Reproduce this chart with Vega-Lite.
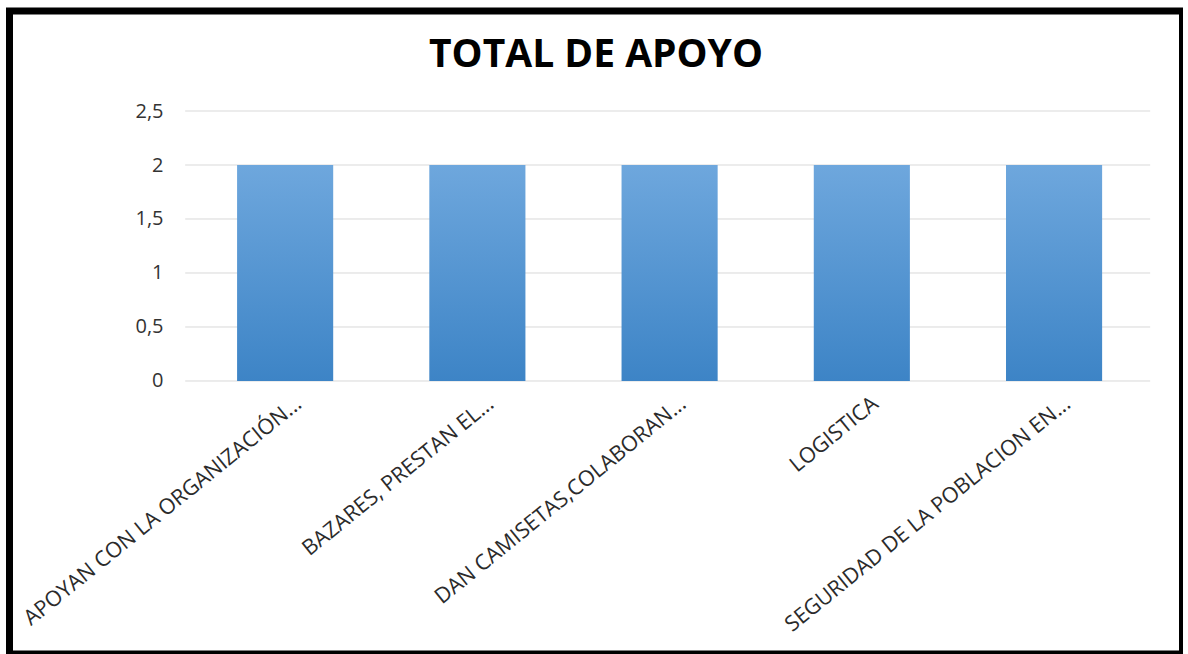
{
  "$schema": "https://vega.github.io/schema/vega-lite/v6.json",
  "autosize": {"type": "none"},
  "padding": {"left": 9.5, "top": 11, "right": 0, "bottom": 0},
  "width": 1173,
  "height": 643,
  "background": "white",
  "config": {
    "view": {"stroke": "black", "strokeWidth": 7, "fill": "white"},
    "font": "Open Sans"
  },
  "title": {
    "text": "TOTAL DE APOYO",
    "font": "Open Sans",
    "fontSize": 39,
    "fontWeight": "bold",
    "color": "#000000",
    "anchor": "middle",
    "offset": -64
  },
  "datasets": {
    "apoyo": [
      {"categoria": "APOYAN CON LA ORGANIZACIÓN...", "total": 2},
      {"categoria": "BAZARES, PRESTAN EL...", "total": 2},
      {"categoria": "DAN CAMISETAS,COLABORAN...", "total": 2},
      {"categoria": "LOGISTICA", "total": 2},
      {"categoria": "SEGURIDAD DE LA POBLACION EN...", "total": 2}
    ],
    "grid": [
      {"v": 0}, {"v": 0.5}, {"v": 1}, {"v": 1.5}, {"v": 2}, {"v": 2.5}
    ]
  },
  "layer": [
    {
      "data": {"name": "grid"},
      "mark": {"type": "rule", "color": "#d9d9d9", "strokeWidth": 1},
      "encoding": {
        "y": {"field": "v", "type": "quantitative"},
        "x": {"datum": "APOYAN CON LA ORGANIZACIÓN...", "type": "nominal", "bandPosition": -0.54},
        "x2": {"datum": "SEGURIDAD DE LA POBLACION EN...", "bandPosition": 1.5}
      }
    },
    {
      "data": {"name": "apoyo"},
      "mark": {
        "type": "bar",
        "color": {
          "gradient": "linear",
          "x1": 0, "y1": 0, "x2": 0, "y2": 1,
          "stops": [
            {"offset": 0, "color": "#6ea7dd"},
            {"offset": 1, "color": "#3d84c6"}
          ]
        }
      },
      "encoding": {
        "x": {
          "field": "categoria",
          "type": "nominal",
          "sort": null,
          "scale": {
            "domain": [
              "APOYAN CON LA ORGANIZACIÓN...",
              "BAZARES, PRESTAN EL...",
              "DAN CAMISETAS,COLABORAN...",
              "LOGISTICA",
              "SEGURIDAD DE LA POBLACION EN..."
            ],
            "paddingInner": 0.5, "paddingOuter": 0.801, "align": 0.739
          },
          "axis": {
            "title": null,
            "orient": "bottom",
            "offset": -273,
            "domain": false,
            "ticks": false,
            "grid": false,
            "labelAngle": -39,
            "labelFont": "Open Sans",
            "labelFontSize": 21.5,
            "labelColor": "#2b2b2b",
            "labelPadding": 20,
            "labelOffset": 14,
            "labelLimit": 600
          }
        },
        "y": {
          "field": "total",
          "type": "quantitative",
          "scale": {"domain": [-2.528, 3.426], "nice": false, "zero": false},
          "axis": {
            "title": null,
            "orient": "left",
            "offset": -159.5,
            "values": [0, 0.5, 1, 1.5, 2, 2.5],
            "domain": false,
            "ticks": false,
            "grid": false,
            "labelFont": "Open Sans",
            "labelFontSize": 20,
            "labelColor": "#333333",
            "labelPadding": 6,
            "labelExpr": "replace(format(datum.value, '~g'), '.', ',')"
          }
        }
      }
    }
  ]
}
